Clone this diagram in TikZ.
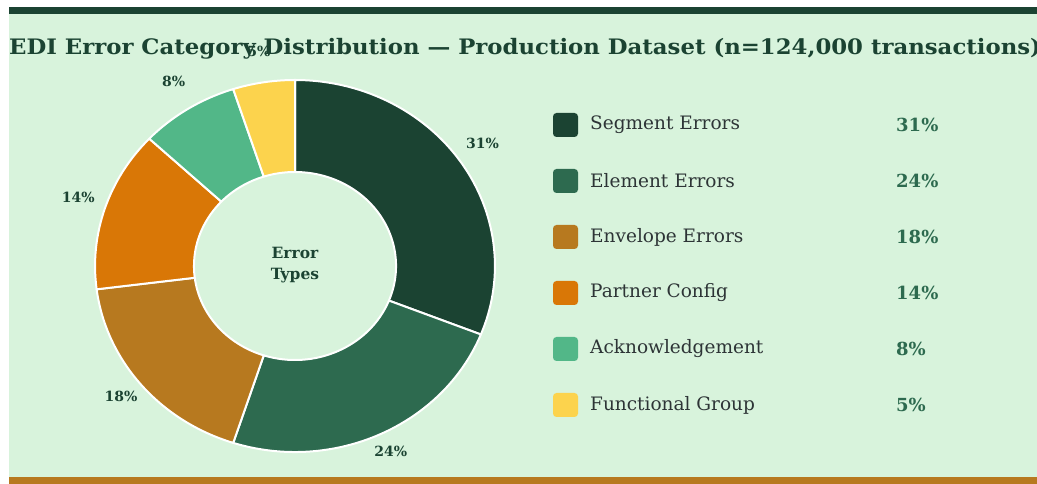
\documentclass[tikz,border=0pt]{standalone}
\usepackage{fontspec}
\setmainfont{DejaVu Serif}
\definecolor{cseg}{HTML}{1B4332}
\definecolor{celem}{HTML}{2D6A4F}
\definecolor{cenv}{HTML}{B7791F}
\definecolor{cpart}{HTML}{D97706}
\definecolor{cack}{HTML}{52B788}
\definecolor{cfunc}{HTML}{FCD34D}
\definecolor{cbg}{HTML}{D8F3DC}
\definecolor{ctxt}{HTML}{1B4332}
\definecolor{clab}{HTML}{2D3436}
\definecolor{cpct}{HTML}{2D6A4F}
\tikzset{
  slicelabel/.style={font=\fontsize{14}{16}\selectfont\bfseries, text=ctxt, inner sep=0pt, yshift=3.5pt},
  swatch/.style={rounded corners=3.5pt, minimum width=25pt, minimum height=24pt, inner sep=0pt},
  legendtext/.style={font=\fontsize{18.5}{22}\selectfont, text=clab, anchor=west, inner sep=0pt},
  legendpct/.style={font=\fontsize{18}{22}\selectfont\bfseries, text=cpct, anchor=west, inner sep=0pt},
}
\begin{document}
\begin{tikzpicture}[x=1pt,y=1pt]
\useasboundingbox (0,0) rectangle (1037,484);
\fill[white] (0,0) rectangle (1037,484);
\fill[cbg] (9,0) rectangle (1037,477);
\fill[cseg] (9,470) rectangle (1037,477);
\fill[cenv] (9,0) rectangle (1037,7);
\node[anchor=west, inner sep=0pt, text=ctxt, xscale=1.07, font=\fontsize{21.3}{24}\selectfont\bfseries] (title) at (9,435.5) {EDI Error Category Distribution — Production Dataset (n=124,000 transactions)};
\begin{scope}[shift={(295,218)}, xscale=1.075]
  \foreach \a/\b/\c in {90/-21.6/cseg, -21.6/-108/celem, -108/-172.8/cenv, -172.8/-223.2/cpart, -223.2/-252/cack, -252/-270/cfunc}{
    \fill[\c, draw=white, line width=2pt, line join=round] (\a:186) arc[start angle=\a, end angle=\b, radius=186] -- (\b:94) arc[start angle=\b, end angle=\a, radius=94] -- cycle;
  }
  \node[slicelabel] (l1) at (34.2:211) {31\%};
  \node[slicelabel] (l2) at (-64.8:209) {24\%};
  \node[slicelabel] (l3) at (-140.4:210) {18\%};
  \node[slicelabel] (l4) at (162:212) {14\%};
  \node[slicelabel] (l5) at (122:213) {8\%};
  \node[slicelabel] (l6) at (99:214) {5\%};
\end{scope}
\node[align=center, text=ctxt, font=\fontsize{15.5}{21}\selectfont\bfseries] (center) at (295,218.5) {Error\\Types};
\foreach \y/\c/\t/\p [count=\i] in {359/cseg/Segment Errors/31, 303/celem/Element Errors/24, 247/cenv/Envelope Errors/18, 191/cpart/Partner Config/14, 135/cack/Acknowledgement/8, 79/cfunc/Functional Group/5}{
  \node[swatch, fill=\c] (sw\i) at (565.5,\y) {};
  \node[legendtext] (lt\i) at (590,\y) {\t};
  \node[legendpct] (lp\i) at (896,\y) {\p\%};
}
\end{tikzpicture}
\end{document}
